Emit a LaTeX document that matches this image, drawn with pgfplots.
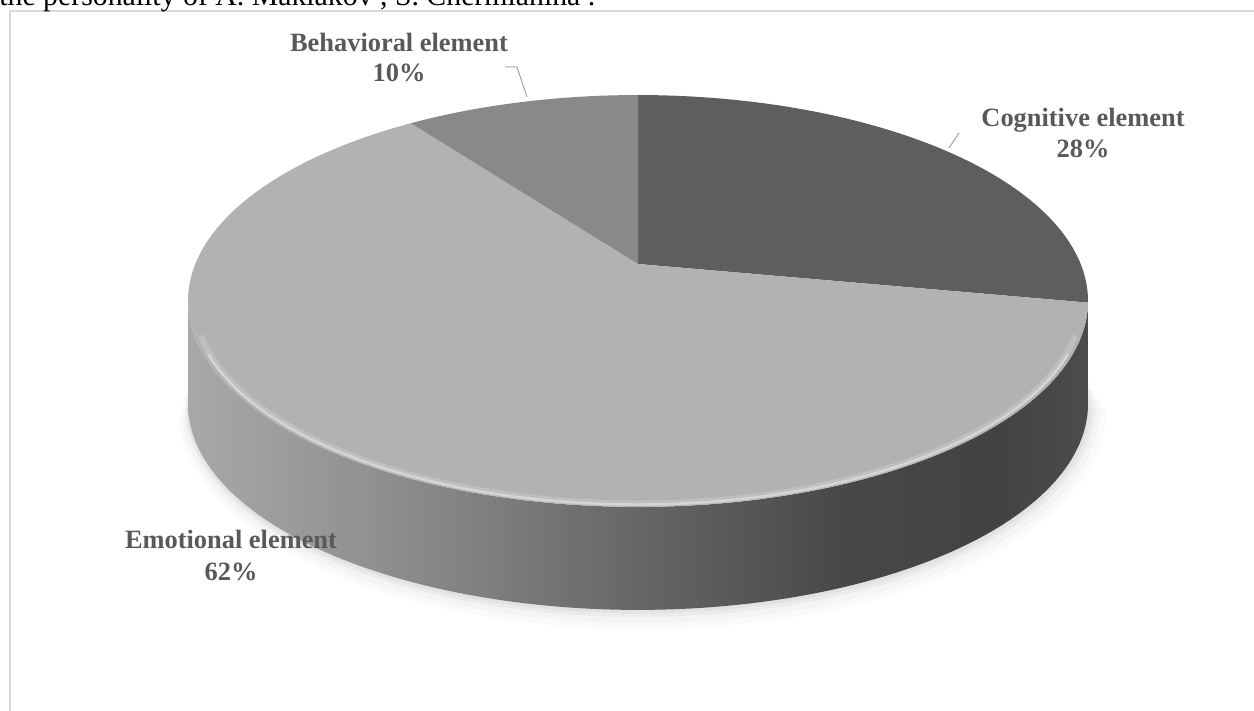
\documentclass[border=0pt]{standalone}
\usepackage{fontspec}
\setmainfont{Liberation Serif}
\usepackage{pgfplots}
\usepackage{pgfplotstable}
\pgfplotsset{compat=1.18}
\definecolor{cogc}{HTML}{5E5E5E}
\definecolor{emoc}{HTML}{B2B2B2}
\definecolor{behc}{HTML}{898989}
\definecolor{labc}{HTML}{595959}
\definecolor{framec}{HTML}{D9D9D9}
\definecolor{leadc}{HTML}{A6A6A6}
\pgfdeclarehorizontalshading{sideshade}{100bp}{color(0bp)=(black!34); color(25bp)=(black!34); color(36.8bp)=(black!45); color(50bp)=(black!60); color(61.8bp)=(black!72); color(70bp)=(black!74); color(75bp)=(black!70); color(100bp)=(black!70)}
\begin{document}%
\pgfplotstableread{
label value
Cognitive 28
Emotional 62
Behavioral 10
}\piedata%
\pgfplotstablegetelem{0}{value}\of\piedata\let\vC\pgfplotsretval%
\pgfplotstablegetelem{1}{value}\of\piedata\let\vE\pgfplotsretval%
\pgfplotstablegetelem{2}{value}\of\piedata\let\vB\pgfplotsretval%
\pgfmathsetmacro\aC{90-3.6*\vC}%
\pgfmathsetmacro\aE{\aC-3.6*\vE}%
\pgfmathsetmacro\aB{\aE-3.6*\vB}%
\begin{tikzpicture}
\begin{axis}[
  width=627pt, height=355.5pt, scale only axis,
  xmin=0, xmax=1254, ymin=0, ymax=711, y dir=reverse,
  hide axis, clip=false, no markers,
  declare function={
    px(\t)=638+442.7*cos(\t)/(1+0.1796*sin(\t));
    py(\t)=264-199.3*sin(\t)/(1+0.1796*sin(\t));
    sa(\t)=(\t<1)*(190.35+159.3*\t)+(\t>=1)*(349.65-159.3*(\t-1));
    sd(\t)=(\t>=1)*103;
  }]
% frame
\addplot[draw=framec, line width=1pt] coordinates {(10,720) (10,11) (1260,11)};
% cut-off caption line
\node[anchor=base west, font=\fontsize{14.9}{17}\selectfont, inner sep=0pt] at (axis cs:-1,6) {the personality of A. Maklakov , S. Chermianina .};
% soft shadow
\addplot[draw=black, opacity=0.02, line width=14pt, domain=192:350, samples=120, variable=\t] ({px(\t)+4},{py(\t)+108});
\addplot[draw=black, opacity=0.025, line width=9pt, domain=190:352, samples=120, variable=\t] ({px(\t)+3},{py(\t)+107});
\addplot[draw=black, opacity=0.035, line width=5pt, domain=188:354, samples=120, variable=\t] ({px(\t)+2},{py(\t)+105});
\addplot[draw=black, opacity=0.04, line width=2.5pt, domain=186:356, samples=120, variable=\t] ({px(\t)+1},{py(\t)+104});
% side of the pie
\addplot[draw=none, shading=sideshade, domain=0:2, samples=241, variable=\t] ({px(sa(\t))},{py(sa(\t))+sd(\t)}) -- cycle;
% top faces
\addplot[fill=cogc, draw=none, domain=\aC:90, samples=100, variable=\t] ({px(\t)},{py(\t)}) -- (axis cs:638,264) -- cycle;
\addplot[fill=emoc, draw=none, domain=\aE:\aC, samples=200, variable=\t] ({px(\t)},{py(\t)}) -- (axis cs:638,264) -- cycle;
\addplot[fill=behc, draw=none, domain=\aB:\aE, samples=50, variable=\t] ({px(\t)},{py(\t)}) -- (axis cs:638,264) -- cycle;
% rim bevel highlight
\addplot[draw=white, opacity=0.18, line width=3pt, domain=200:340, samples=120, variable=\t] ({638+0.986*(px(\t)-638)},{264+0.986*(py(\t)-264)});
\addplot[draw=white, opacity=0.35, line width=1.2pt, domain=205:335, samples=120, variable=\t] ({638+0.99*(px(\t)-638)},{264+0.99*(py(\t)-264)});
% labels
\node[anchor=base, font=\bfseries\fontsize{13.2}{15}\selectfont, text=labc, inner sep=0pt] at (axis cs:399,52) {Behavioral element};
\node[anchor=base, font=\bfseries\fontsize{13.2}{15}\selectfont, text=labc, inner sep=0pt] at (axis cs:399,82) {10\%};
\node[anchor=base, font=\bfseries\fontsize{13.2}{15}\selectfont, text=labc, inner sep=0pt] at (axis cs:1083,127) {Cognitive element};
\node[anchor=base, font=\bfseries\fontsize{13.2}{15}\selectfont, text=labc, inner sep=0pt] at (axis cs:1083,158) {28\%};
\node[anchor=base, font=\bfseries\fontsize{13.2}{15}\selectfont, text=labc, inner sep=0pt] at (axis cs:231,548) {Emotional element};
\node[anchor=base, font=\bfseries\fontsize{13.2}{15}\selectfont, text=labc, inner sep=0pt] at (axis cs:231,580) {62\%};
% leader lines
\addplot[draw=leadc, line width=0.5pt] coordinates {(505,67) (517,67) (527,97)};
\addplot[draw=leadc, line width=0.5pt] coordinates {(959,133) (949,148)};
\end{axis}
\pgfresetboundingbox
\path[use as bounding box] (current axis.south west) rectangle (current axis.north east);
\end{tikzpicture}
\end{document}
